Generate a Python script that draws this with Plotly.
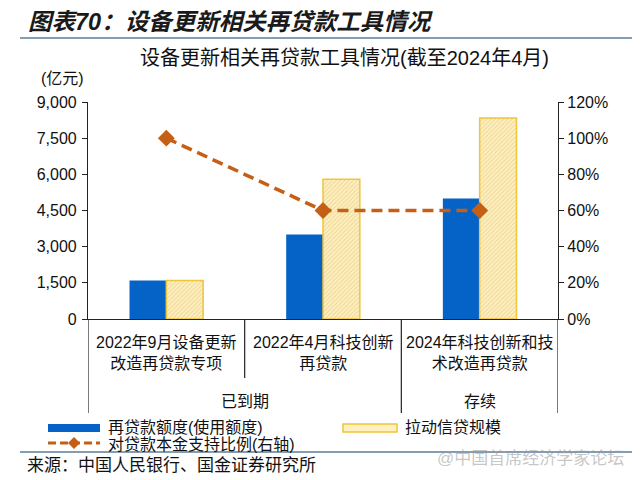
import plotly.graph_objects as go

# ---------------- data ----------------
categories = ["2022年9月设备更新<br>改造再贷款专项", "2022年4月科技创新<br>再贷款", "2024年科技创新和技<br>术改造再贷款"]
groups = ["已到期", "存续"]
group_spans = [(0, 1), (2, 2)]
quota = [1600, 3500, 5000]            # 再贷款额度(使用额度), 亿元
credit = [1600, 5800, 8333]           # 拉动信贷规模, 亿元
ratio = [1.00, 0.60, 0.60]            # 对贷款本金支持比例(右轴)
left_ticks = [0, 1500, 3000, 4500, 6000, 7500, 9000]
right_ticks = [0, 0.2, 0.4, 0.6, 0.8, 1.0, 1.2]

# ---------------- geometry (pixels, in screen coords) ----------------
W, H = 640, 480
OFF = 8   # page body margin offset
L, R, T, B = 88, 558, 102, 319
PW, PH = R - L, B - T

def px(x):
    return (x - L) / PW

def py(y):
    return (B - y) / PH

FONT = "Liberation Sans, Arial, Noto Sans CJK SC"
BLUE = "#0563C8"
YFILL = "#FFF0BE"
YLINE = "#F0C43C"
ORANGE = "#C55F16"
SEP = "#5B7C9A"

xs = list(range(len(categories)))

fig = go.Figure()
fig.add_trace(go.Bar(
    x=xs, y=quota, name="再贷款额度(使用额度)",
    marker=dict(color=BLUE, line=dict(width=0)), yaxis="y", showlegend=False))
fig.add_trace(go.Bar(
    x=xs, y=credit, name="拉动信贷规模",
    marker=dict(color=YFILL, line=dict(color=YLINE, width=1.5),
                pattern=dict(shape="/", fgcolor="#EAD496", bgcolor=YFILL, size=3, solidity=0.3, fillmode="replace")),
    yaxis="y", showlegend=False))
fig.add_trace(go.Scatter(
    x=xs, y=ratio, name="对贷款本金支持比例(右轴)", mode="lines+markers",
    line=dict(color=ORANGE, width=3.5, dash="11px,6px"),
    marker=dict(symbol="diamond", size=13, color=ORANGE),
    yaxis="y2", showlegend=False))

fig.update_layout(
    width=W, height=H,
    margin=dict(l=L - OFF, r=W - (R - OFF), t=T - OFF, b=H - (B - OFF), pad=0),
    paper_bgcolor="white", plot_bgcolor="white",
    barmode="group", bargap=0.53, bargroupgap=0,
    font=dict(family=FONT, size=16, color="#111111"),
    xaxis=dict(range=[-0.5, len(categories) - 0.5], showticklabels=False, showgrid=False,
               zeroline=False, showline=True, linecolor="#222222", linewidth=1.2, ticks=""),
    yaxis=dict(range=[0, 9000], tickvals=left_ticks, tickformat=",", showgrid=False, zeroline=False,
               showline=True, linecolor="#222222", linewidth=1.2, ticks="outside", ticklen=5,
               tickcolor="#222222", tickfont=dict(size=16, family=FONT), ticklabelstandoff=2),
    yaxis2=dict(range=[0, 1.2], tickvals=right_ticks, tickformat=".0%", overlaying="y", side="right",
                showgrid=False, zeroline=False, showline=True, linecolor="#222222", linewidth=1.2,
                ticks="outside", ticklen=5, tickcolor="#222222", tickfont=dict(size=16, family=FONT)),
)

ann = []
shapes = []

# title & subtitle
ann.append(dict(text="<b><i>图表70：设备更新相关再贷款工具情况</i></b>", x=px(26), y=py(22), xref="paper", yref="paper",
                xanchor="left", yanchor="middle", showarrow=False, font=dict(size=23.5, color="#1a1a1a", family=FONT)))
shapes.append(dict(type="line", xref="paper", yref="paper", x0=px(20), x1=px(660), y0=py(38), y1=py(38),
                   line=dict(color=SEP, width=1.5)))
ann.append(dict(text="设备更新相关再贷款工具情况(截至2024年4月)", x=px(344), y=py(58), xref="paper", yref="paper",
                xanchor="center", yanchor="middle", showarrow=False, font=dict(size=20, family=FONT)))
ann.append(dict(text="(亿元)", x=px(39), y=py(78), xref="paper", yref="paper",
                xanchor="left", yanchor="middle", showarrow=False, font=dict(size=16, family=FONT)))

# category labels
for i, c in enumerate(categories):
    ann.append(dict(text=c, x=i, y=py(353), xref="x", yref="paper", xanchor="center", yanchor="middle",
                    showarrow=False, font=dict(size=16, family=FONT)))
for g, (a, b) in zip(groups, group_spans):
    ann.append(dict(text=g, x=(a + b) / 2, y=py(401), xref="x", yref="paper", xanchor="center", yanchor="middle",
                    showarrow=False, font=dict(size=16, family=FONT)))

# dividers
for pos, bottom in [(-0.5, 413), (0.5, 378), (1.5, 413), (2.5, 413)]:
    shapes.append(dict(type="line", xref="x", yref="paper", x0=pos, x1=pos, y0=0, y1=py(bottom),
                       line=dict(color="#222222", width=1.2)))

# legend (manual)
shapes.append(dict(type="rect", xref="paper", yref="paper", x0=px(48), x1=px(100), y0=py(424), y1=py(432),
                   fillcolor=BLUE, line=dict(width=0)))
ann.append(dict(text="再贷款额度(使用额度)", x=px(106), y=py(427), xref="paper", yref="paper",
                xanchor="left", yanchor="middle", showarrow=False, font=dict(size=16, family=FONT)))
shapes.append(dict(type="rect", xref="paper", yref="paper", x0=px(343), x1=px(397), y0=py(424), y1=py(432),
                   fillcolor=YFILL, line=dict(color=YLINE, width=1.5)))
ann.append(dict(text="拉动信贷规模", x=px(403), y=py(427), xref="paper", yref="paper",
                xanchor="left", yanchor="middle", showarrow=False, font=dict(size=16, family=FONT)))
shapes.append(dict(type="line", xref="paper", yref="paper", x0=px(48), x1=px(100), y0=py(443), y1=py(443),
                   line=dict(color=ORANGE, width=3, dash="8px,4px")))
cx, cy, d = 74, 443, 6
shapes.append(dict(type="path", xref="paper", yref="paper",
                   path=f"M {px(cx - d)} {py(cy)} L {px(cx)} {py(cy - d)} L {px(cx + d)} {py(cy)} L {px(cx)} {py(cy + d)} Z",
                   fillcolor=ORANGE, line=dict(width=0)))
ann.append(dict(text="对贷款本金支持比例(右轴)", x=px(106), y=py(444), xref="paper", yref="paper",
                xanchor="left", yanchor="middle", showarrow=False, font=dict(size=16, family=FONT)))

# bottom separator and source
shapes.append(dict(type="line", xref="paper", yref="paper", x0=px(20), x1=px(660), y0=py(452), y1=py(452),
                   line=dict(color=SEP, width=1.5)))
ann.append(dict(text="来源：中国人民银行、国金证券研究所", x=px(25), y=py(466), xref="paper", yref="paper",
                xanchor="left", yanchor="middle", showarrow=False, font=dict(size=17, family=FONT)))
ann.append(dict(text="@中国首席经济学家论坛", x=px(626), y=py(458), xref="paper", yref="paper",
                xanchor="right", yanchor="middle", showarrow=False, font=dict(size=17, family=FONT, color="rgba(150,150,150,0.55)")))

fig.update_layout(annotations=ann, shapes=shapes)
fig.write_html("out.html")
